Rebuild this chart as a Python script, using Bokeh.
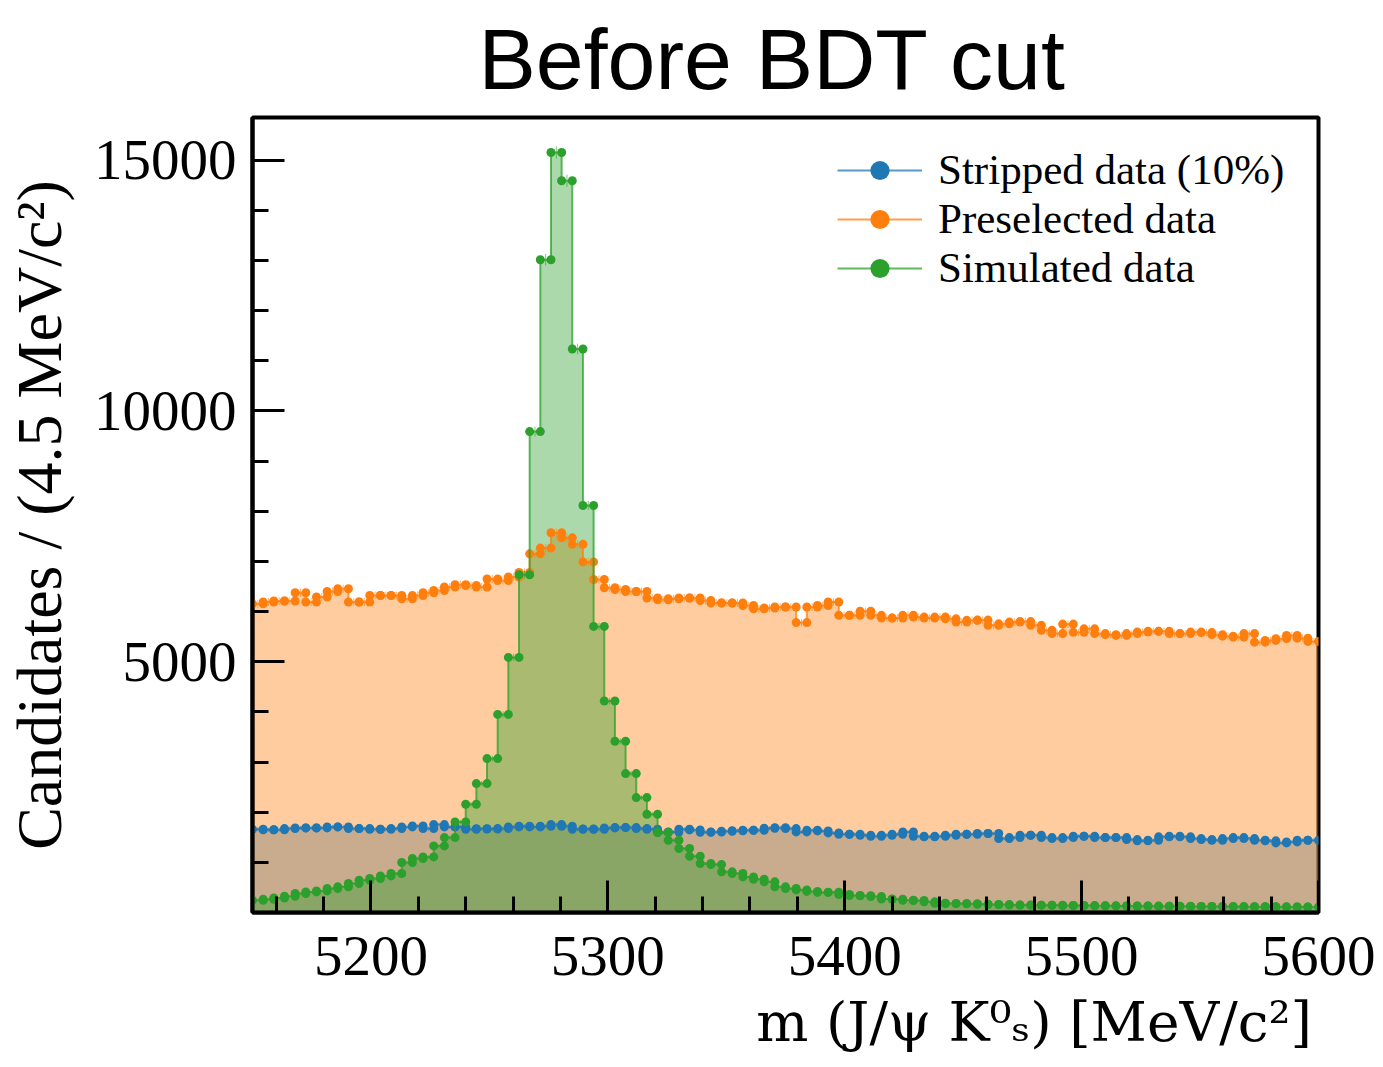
import numpy as np
from bokeh.plotting import figure
from bokeh.models import Range1d, FixedTicker, Legend, LegendItem, Title
from bokeh.embed import file_html
from bokeh.resources import INLINE

# ---------------- data ----------------
bin_lo = 5150.0
bin_w = 4.5

stripped = [1660, 1650, 1650, 1673, 1687, 1687, 1687, 1707, 1707, 1673,
             1673, 1660, 1660, 1673, 1707, 1726, 1673, 1753, 1707, 1707,
             1660, 1670, 1665, 1673, 1707, 1720, 1707, 1720, 1753, 1720,
             1660, 1665, 1660, 1687, 1693, 1693, 1673, 1660, 1600, 1605,
             1660, 1647, 1600, 1605, 1620, 1630, 1640, 1640, 1680, 1690,
             1673, 1607, 1640, 1627, 1587, 1560, 1560, 1541, 1520, 1541,
             1560, 1607, 1520, 1508, 1520, 1541, 1560, 1560, 1574, 1574,
             1474, 1494, 1541, 1541, 1494, 1474, 1494, 1520, 1520, 1494,
             1494, 1494, 1454, 1428, 1441, 1508, 1520, 1508, 1474, 1454,
             1441, 1474, 1494, 1474, 1441, 1428, 1388, 1408, 1441, 1441]

preselected = [6155, 6190, 6210, 6210, 6375, 6190, 6290, 6400, 6455, 6190,
               6190, 6320, 6320, 6320, 6255, 6320, 6375, 6420, 6490, 6535,
               6520, 6490, 6650, 6620, 6690, 6780, 7150, 7265, 7570, 7470,
               7340, 6990, 6640, 6475, 6440, 6400, 6400, 6270, 6235, 6255,
               6270, 6270, 6220, 6170, 6170, 6170, 6120, 6055, 6070, 6090,
               6090, 5780, 6090, 6120, 6190, 5925, 5925, 6005, 5925, 5870,
               5870, 5925, 5890, 5870, 5890, 5855, 5790, 5825, 5830, 5725,
               5755, 5790, 5800, 5725, 5625, 5560, 5750, 5585, 5655, 5560,
               5540, 5525, 5560, 5590, 5605, 5605, 5560, 5560, 5590, 5580,
               5540, 5510, 5490, 5560, 5390, 5425, 5460, 5525, 5470, 5405]

simulated = [245, 265, 290, 325, 378, 411, 431, 478, 511, 578,
             644, 677, 730, 777, 996, 1076, 1109, 1328, 1494, 1806,
             2158, 2570, 3068, 3950, 5086, 6733, 9588, 13014, 15153, 14588,
             11235, 8114, 5704, 4216, 3414, 2769, 2291, 1959, 1594, 1440,
             1275, 1122, 976, 956, 810, 777, 710, 664, 611, 511,
             478, 450, 420, 400, 405, 360, 340, 335, 320, 270,
             265, 245, 240, 212, 185, 180, 178, 175, 165, 160,
             158, 150, 148, 146, 146, 145, 140, 140, 138, 135,
             133, 132, 130, 130, 128, 126, 125, 124, 122, 120,
             120, 118, 118, 116, 115, 114, 113, 112, 110, 110]

series_labels = ["Stripped data (10%)", "Preselected data", "Simulated data"]
series_colors = ["#1f77b4", "#ff7f0e", "#2ca02c"]

x_major = [5200, 5300, 5400, 5500, 5600]
x_minor = [5160, 5180, 5220, 5240, 5260, 5280, 5320, 5340, 5360, 5380,
           5420, 5440, 5460, 5480, 5520, 5540, 5560, 5580]
y_major = [5000, 10000, 15000]
y_minor = [1000, 2000, 3000, 4000, 6000, 7000, 8000, 9000, 11000, 12000,
           13000, 14000]

# ---------------- figure ----------------
SERIF = "Liberation Serif"

p = figure(width=1383, height=1067, output_backend="svg", toolbar_location=None,
           x_range=Range1d(5150, 5600), y_range=Range1d(0, 15850),
           min_border_left=252, min_border_right=65, min_border_top=117,
           min_border_bottom=155)
p.background_fill_color = "white"
p.border_fill_color = "white"
p.grid.visible = False
p.outline_line_color = "black"
p.outline_line_width = 4

p.title.text = "Before BDT cut"
p.title.text_font = "Liberation Sans"
p.title.text_font_size = "86px"
p.title.text_font_style = "normal"
p.title.text_color = "black"
p.title.align = "left"
p.title.vertical_align = "top"
p.title.offset = 226
p.title.standoff = 18

edges = bin_lo + bin_w * np.arange(len(simulated) + 1)
centers = 0.5 * (edges[:-1] + edges[1:])

order = [0, 1, 2]
line_rs = {}
dot_rs = {}
# fills first
for k in order:
    vals = np.array([stripped, preselected, simulated][k], dtype=float)
    yext = np.append(vals, vals[-1])
    p.varea_step(x=edges, y1=np.zeros_like(yext), y2=yext, step_mode="after",
                 fill_color=series_colors[k], fill_alpha=0.4)
# lines, error bars, markers
for k in order:
    vals = np.array([stripped, preselected, simulated][k], dtype=float)
    yext = np.append(vals, vals[-1])
    line_rs[k] = p.step(x=edges, y=yext, mode="after", line_color=series_colors[k],
                        line_width=2, line_alpha=0.75)
    err = np.sqrt(vals)
    p.segment(x0=centers, y0=vals - err, x1=centers, y1=vals + err,
              line_color=series_colors[k], line_width=1, line_alpha=0.6)
    xs = np.concatenate([edges[:-1], edges[1:]])
    ys = np.concatenate([vals, vals])
    dot_rs[k] = p.scatter(x=xs, y=ys, size=9, marker="circle",
                          fill_color=series_colors[k], line_color=series_colors[k],
                          line_width=0)

# ---------------- axes ----------------
p.xaxis.ticker = FixedTicker(ticks=x_major, minor_ticks=x_minor)
p.yaxis.ticker = FixedTicker(ticks=y_major, minor_ticks=y_minor)
for ax in (p.xaxis[0], p.yaxis[0]):
    ax.axis_line_width = 4
    ax.axis_line_color = "black"
    ax.major_tick_in = 32
    ax.major_tick_out = 0
    ax.minor_tick_in = 16
    ax.minor_tick_out = 0
    ax.major_tick_line_width = 3
    ax.minor_tick_line_width = 3
    ax.major_tick_line_color = "black"
    ax.minor_tick_line_color = "black"
    ax.major_label_text_font = SERIF
    ax.major_label_text_font_size = "57px"
    ax.major_label_text_color = "black"
p.yaxis.major_label_standoff = 16
p.xaxis.major_label_standoff = 24

p.yaxis.axis_label = "Candidates / (4.5 MeV/c²)"
p.yaxis.axis_label_text_font = SERIF
p.yaxis.axis_label_text_font_size = "64px"
p.yaxis.axis_label_text_font_style = "normal"
p.yaxis.axis_label_text_color = "black"
p.yaxis.axis_label_standoff = 16

xlab = Title(text="m (J/ψ K⁰ₛ)  [MeV/c²]", align="right",
             text_font="DejaVu Serif", text_font_size="55px",
             text_font_style="normal", text_color="black", standoff=20, offset=-11)
p.add_layout(xlab, "below")

# ---------------- legend ----------------
items = [LegendItem(label=series_labels[k], renderers=[line_rs[k], dot_rs[k]])
         for k in order]
legend = Legend(items=items, location=(585, 620), orientation="vertical",
                glyph_width=85, glyph_height=48, label_height=48,
                label_standoff=16, spacing=0, padding=0, margin=0,
                label_text_font=SERIF, label_text_font_size="43px",
                label_text_color="black",
                border_line_alpha=0, background_fill_alpha=0)
p.add_layout(legend)

open("out.html", "w").write(file_html(p, INLINE))
